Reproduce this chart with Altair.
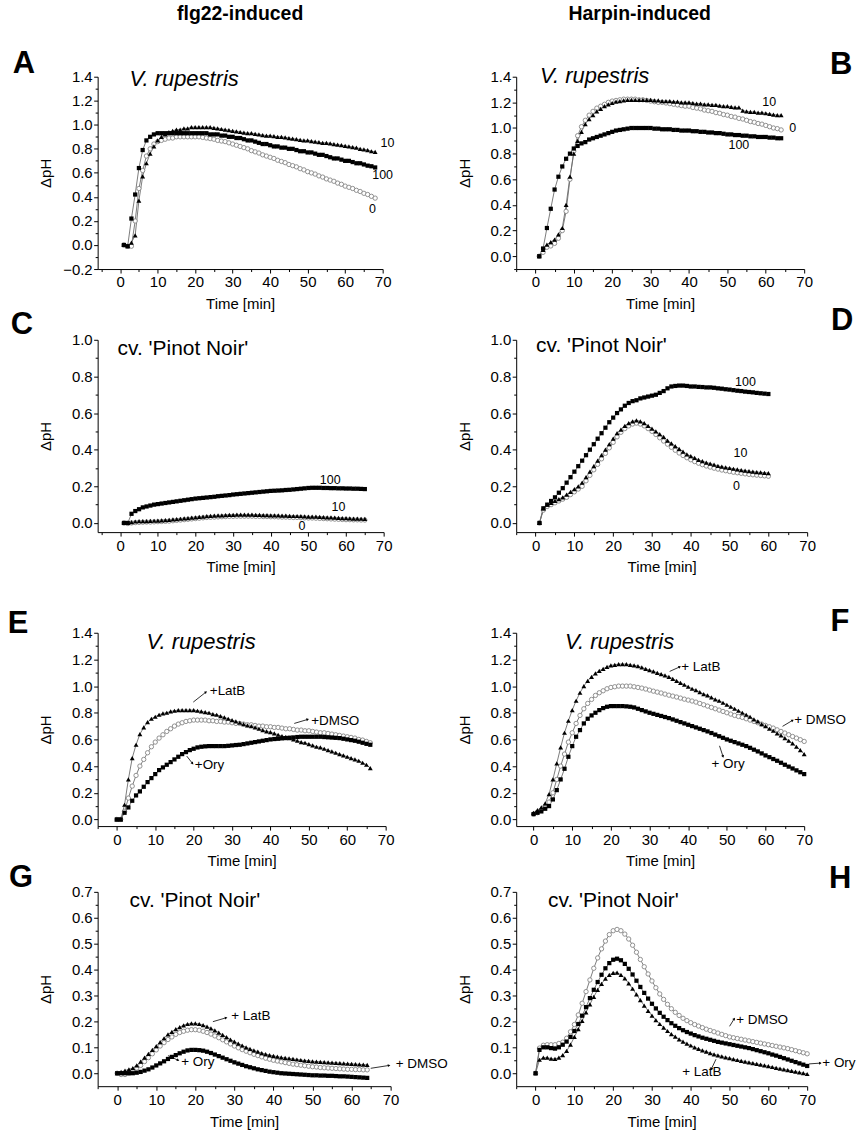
import math
import altair as alt
import pandas as pd

FONT = "Liberation Sans"

# ---------------- data ----------------
# Panel A: flg22, V. rupestris
A_t = list(range(1, 69))
A_100 = [0.00, -0.01, 0.22, 0.42, 0.64, 0.79, 0.87, 0.90, 0.92, 0.93,
         0.93, 0.93, 0.93, 0.93, 0.93, 0.93, 0.93, 0.93, 0.93, 0.93,
         0.93, 0.93, 0.93, 0.92, 0.92, 0.92, 0.91, 0.91, 0.90, 0.90,
         0.89, 0.89, 0.88, 0.87, 0.87, 0.86, 0.85, 0.84, 0.84, 0.83,
         0.82, 0.82, 0.81, 0.81, 0.80, 0.80, 0.79, 0.78, 0.78, 0.77,
         0.77, 0.76, 0.75, 0.75, 0.74, 0.73, 0.72, 0.72, 0.71, 0.70,
         0.70, 0.69, 0.68, 0.68, 0.67, 0.66, 0.655, 0.645]
A_10 = [0.00, -0.01, 0.02, 0.08, 0.37, 0.57, 0.68, 0.76, 0.82, 0.87,
        0.90, 0.92, 0.94, 0.95, 0.96, 0.96, 0.97, 0.97, 0.98, 0.98,
        0.98, 0.98, 0.98, 0.98, 0.975, 0.97, 0.965, 0.96, 0.955, 0.95,
        0.945, 0.94, 0.935, 0.93, 0.93, 0.925, 0.92, 0.915, 0.91, 0.91,
        0.905, 0.90, 0.90, 0.895, 0.89, 0.885, 0.88, 0.875, 0.87, 0.87,
        0.865, 0.86, 0.855, 0.85, 0.85, 0.845, 0.84, 0.835, 0.83, 0.825,
        0.82, 0.815, 0.81, 0.80, 0.795, 0.79, 0.78, 0.775]
A_0 = [0.00, -0.01, -0.01, 0.20, 0.47, 0.62, 0.74, 0.80, 0.84, 0.86,
       0.87, 0.88, 0.89, 0.89, 0.90, 0.90, 0.90, 0.90, 0.90, 0.90,
       0.90, 0.895, 0.89, 0.885, 0.88, 0.87, 0.865, 0.86, 0.85, 0.84,
       0.83, 0.82, 0.81, 0.80, 0.785, 0.775, 0.765, 0.75, 0.74, 0.73,
       0.72, 0.705, 0.695, 0.685, 0.67, 0.66, 0.65, 0.635, 0.625, 0.61,
       0.60, 0.59, 0.575, 0.565, 0.55, 0.54, 0.53, 0.515, 0.505, 0.49,
       0.48, 0.47, 0.455, 0.445, 0.43, 0.42, 0.405, 0.39]
A_lab_text = ["10", "100", "0"]
A_lab_t = [71.3, 70.0, 67.3]
A_lab_v = [0.85, 0.583, 0.30]

# Panel B: harpin, V. rupestris
B_t = list(range(1, 65))
B_100 = [0.00, 0.06, 0.22, 0.37, 0.52, 0.62, 0.70, 0.76, 0.80, 0.84,
         0.86, 0.88, 0.89, 0.91, 0.92, 0.93, 0.94, 0.95, 0.96, 0.97,
         0.98, 0.985, 0.99, 0.995, 1.00, 1.00, 1.00, 1.00, 1.00, 1.00,
         0.995, 0.995, 0.99, 0.99, 0.99, 0.985, 0.985, 0.98, 0.98, 0.98,
         0.975, 0.975, 0.97, 0.97, 0.965, 0.965, 0.96, 0.96, 0.955, 0.95,
         0.95, 0.945, 0.945, 0.94, 0.94, 0.935, 0.935, 0.93, 0.93, 0.93,
         0.925, 0.925, 0.92, 0.92]
B_10 = [0.00, 0.05, 0.09, 0.11, 0.13, 0.17, 0.22, 0.40, 0.62, 0.80,
        0.90, 0.97, 1.03, 1.07, 1.10, 1.13, 1.15, 1.17, 1.185, 1.195,
        1.205, 1.21, 1.215, 1.22, 1.22, 1.22, 1.22, 1.22, 1.22, 1.22,
        1.215, 1.215, 1.21, 1.21, 1.21, 1.205, 1.205, 1.20, 1.20, 1.20,
        1.195, 1.19, 1.19, 1.185, 1.185, 1.18, 1.18, 1.175, 1.17, 1.17,
        1.165, 1.16, 1.16, 1.135, 1.13, 1.125, 1.125, 1.12, 1.12, 1.115,
        1.11, 1.105, 1.10, 1.10]
B_0 = [0.00, 0.03, 0.07, 0.08, 0.10, 0.14, 0.20, 0.35, 0.60, 0.82,
       0.94, 1.01, 1.06, 1.10, 1.13, 1.155, 1.17, 1.185, 1.20, 1.21,
       1.215, 1.22, 1.225, 1.225, 1.225, 1.225, 1.22, 1.22, 1.215, 1.21,
       1.205, 1.20, 1.20, 1.195, 1.19, 1.185, 1.18, 1.175, 1.17, 1.17,
       1.16, 1.155, 1.15, 1.14, 1.135, 1.13, 1.12, 1.115, 1.105, 1.10,
       1.09, 1.085, 1.075, 1.07, 1.06, 1.05, 1.045, 1.035, 1.03, 1.02,
       1.01, 1.00, 0.995, 0.985]
B_lab_text = ["10", "0", "100"]
B_lab_t = [60.9, 67.0, 53.0]
B_lab_v = [1.20, 1.00, 0.865]

# Panel C: flg22, Pinot Noir
C_t = list(range(1, 66))
C_100 = [0.00, 0.00, 0.05, 0.065, 0.075, 0.085, 0.09, 0.095, 0.10, 0.103,
         0.106, 0.109, 0.112, 0.115, 0.118, 0.121, 0.124, 0.127, 0.13, 0.133,
         0.135, 0.137, 0.139, 0.141, 0.143, 0.146, 0.148, 0.15, 0.152, 0.155,
         0.157, 0.159, 0.161, 0.163, 0.165, 0.167, 0.169, 0.171, 0.173, 0.175,
         0.176, 0.177, 0.178, 0.18, 0.181, 0.183, 0.185, 0.187, 0.189, 0.191,
         0.192, 0.192, 0.192, 0.191, 0.191, 0.19, 0.19, 0.189, 0.189, 0.188,
         0.188, 0.187, 0.187, 0.186, 0.185]
C_10 = [0.00, 0.00, 0.005, 0.008, 0.01, 0.01, 0.01, 0.011, 0.012, 0.013,
        0.014, 0.015, 0.017, 0.019, 0.021, 0.023, 0.025, 0.027, 0.029, 0.031,
        0.033, 0.035, 0.037, 0.039, 0.04, 0.041, 0.042, 0.043, 0.044, 0.044,
        0.045, 0.045, 0.045, 0.045, 0.045, 0.044, 0.044, 0.043, 0.043, 0.042,
        0.042, 0.041, 0.04, 0.04, 0.039, 0.038, 0.038, 0.037, 0.036, 0.035,
        0.035, 0.034, 0.033, 0.032, 0.031, 0.03, 0.029, 0.028, 0.027, 0.026,
        0.025, 0.024, 0.024, 0.023, 0.022]
C_0 = [0.00, -0.003, 0.00, 0.002, 0.003, 0.004, 0.005, 0.005, 0.006, 0.007,
       0.008, 0.009, 0.01, 0.012, 0.014, 0.016, 0.018, 0.02, 0.022, 0.024,
       0.026, 0.028, 0.03, 0.031, 0.032, 0.033, 0.034, 0.035, 0.036, 0.036,
       0.037, 0.037, 0.037, 0.037, 0.037, 0.036, 0.036, 0.035, 0.035, 0.034,
       0.034, 0.033, 0.032, 0.032, 0.031, 0.03, 0.03, 0.029, 0.028, 0.027,
       0.027, 0.026, 0.025, 0.024, 0.023, 0.022, 0.021, 0.02, 0.019, 0.018,
       0.018, 0.017, 0.017, 0.016, 0.016]
C_lab_text = ["100", "10", "0"]
C_lab_t = [55.8, 58.0, 48.3]
C_lab_v = [0.234, 0.086, -0.018]

# Panel D: harpin, Pinot Noir
D_t = list(range(1, 61))
D_100 = [0.00, 0.08, 0.10, 0.12, 0.14, 0.165, 0.19, 0.22, 0.25, 0.28,
         0.31, 0.34, 0.37, 0.40, 0.43, 0.46, 0.49, 0.52, 0.55, 0.575,
         0.60, 0.62, 0.64, 0.655, 0.665, 0.67, 0.68, 0.685, 0.69, 0.695,
         0.70, 0.71, 0.72, 0.735, 0.745, 0.748, 0.75, 0.75, 0.748, 0.745,
         0.745, 0.743, 0.742, 0.74, 0.74, 0.738, 0.735, 0.733, 0.73, 0.728,
         0.725, 0.722, 0.72, 0.717, 0.715, 0.713, 0.71, 0.708, 0.706, 0.704]
D_10 = [0.00, 0.08, 0.10, 0.11, 0.12, 0.13, 0.14, 0.155, 0.17, 0.185,
        0.20, 0.22, 0.25, 0.28, 0.31, 0.34, 0.37, 0.40, 0.43, 0.46,
        0.49, 0.51, 0.53, 0.545, 0.555, 0.56, 0.555, 0.545, 0.53, 0.515,
        0.50, 0.485, 0.47, 0.45, 0.435, 0.42, 0.405, 0.39, 0.375, 0.365,
        0.355, 0.345, 0.337, 0.33, 0.324, 0.318, 0.312, 0.307, 0.303, 0.30,
        0.296, 0.292, 0.289, 0.286, 0.283, 0.28, 0.278, 0.276, 0.274, 0.272]
D_0 = [0.00, 0.07, 0.09, 0.10, 0.11, 0.12, 0.13, 0.14, 0.155, 0.17,
       0.185, 0.20, 0.23, 0.26, 0.29, 0.32, 0.35, 0.38, 0.41, 0.44,
       0.47, 0.495, 0.515, 0.53, 0.54, 0.545, 0.54, 0.53, 0.515, 0.50,
       0.483, 0.465, 0.447, 0.43, 0.413, 0.397, 0.382, 0.368, 0.356, 0.345,
       0.335, 0.326, 0.318, 0.311, 0.305, 0.299, 0.294, 0.289, 0.285, 0.281,
       0.277, 0.274, 0.271, 0.268, 0.265, 0.263, 0.261, 0.259, 0.257, 0.255]
D_lab_text = ["100", "10", "0"]
D_lab_t = [54.1, 52.8, 51.8]
D_lab_v = [0.767, 0.382, 0.204]

# Panel E: flg22 + inhibitors, V. rupestris
E_t = list(range(0, 67))
E_latb = [0.00, 0.00, 0.11, 0.30, 0.46, 0.56, 0.64, 0.69, 0.73, 0.755,
          0.77, 0.785, 0.795, 0.80, 0.81, 0.815, 0.82, 0.82, 0.82, 0.82,
          0.82, 0.815, 0.81, 0.805, 0.80, 0.79, 0.785, 0.775, 0.765, 0.755,
          0.745, 0.735, 0.725, 0.715, 0.705, 0.70, 0.69, 0.68, 0.67, 0.66,
          0.655, 0.645, 0.635, 0.625, 0.62, 0.61, 0.60, 0.59, 0.58, 0.575,
          0.565, 0.555, 0.545, 0.54, 0.53, 0.52, 0.51, 0.50, 0.49, 0.48,
          0.47, 0.46, 0.45, 0.44, 0.425, 0.41, 0.385]
E_dmso = [0.00, 0.00, 0.06, 0.16, 0.25, 0.33, 0.40, 0.45, 0.50, 0.545,
          0.58, 0.61, 0.635, 0.66, 0.68, 0.70, 0.715, 0.725, 0.735, 0.74,
          0.745, 0.745, 0.745, 0.745, 0.74, 0.74, 0.735, 0.735, 0.73, 0.73,
          0.725, 0.72, 0.72, 0.715, 0.71, 0.71, 0.705, 0.70, 0.70, 0.695,
          0.695, 0.69, 0.69, 0.685, 0.68, 0.68, 0.675, 0.67, 0.67, 0.665,
          0.665, 0.66, 0.655, 0.65, 0.65, 0.645, 0.64, 0.635, 0.63, 0.625,
          0.62, 0.615, 0.61, 0.60, 0.595, 0.585, 0.575]
E_ory = [0.00, 0.00, 0.05, 0.09, 0.14, 0.18, 0.21, 0.245, 0.28, 0.31,
         0.34, 0.37, 0.39, 0.41, 0.43, 0.45, 0.47, 0.49, 0.505, 0.52,
         0.53, 0.54, 0.545, 0.548, 0.55, 0.55, 0.55, 0.55, 0.55, 0.552,
         0.555, 0.558, 0.56, 0.565, 0.57, 0.575, 0.58, 0.585, 0.59, 0.595,
         0.60, 0.603, 0.605, 0.608, 0.61, 0.613, 0.615, 0.618, 0.62, 0.62,
         0.62, 0.62, 0.62, 0.62, 0.618, 0.616, 0.614, 0.612, 0.61, 0.605,
         0.60, 0.595, 0.59, 0.583, 0.575, 0.567, 0.56]
E_ann_text = ["+LatB", "+DMSO", "+Ory"]
E_ann_t = [24.2, 50.6, 20.3]
E_ann_v = [0.96, 0.74, 0.41]
E_arr_t1 = [19.9, 46.2, 18.2]
E_arr_v1 = [0.88, 0.72, 0.475]
E_arr_t2 = [23.2, 49.7, 19.7]
E_arr_v2 = [0.955, 0.75, 0.42]

# Panel F: harpin + inhibitors, V. rupestris
F_t = list(range(0, 71))
F_latb = [0.05, 0.07, 0.09, 0.12, 0.19, 0.30, 0.42, 0.54, 0.65, 0.74,
          0.82, 0.89, 0.95, 1.00, 1.04, 1.07, 1.095, 1.115, 1.13, 1.145,
          1.155, 1.16, 1.165, 1.165, 1.165, 1.16, 1.155, 1.15, 1.14, 1.13,
          1.12, 1.11, 1.10, 1.09, 1.08, 1.07, 1.055, 1.04, 1.025, 1.01,
          0.995, 0.98, 0.97, 0.955, 0.94, 0.93, 0.915, 0.90, 0.89, 0.875,
          0.86, 0.845, 0.83, 0.815, 0.80, 0.785, 0.77, 0.75, 0.735, 0.715,
          0.70, 0.68, 0.665, 0.645, 0.63, 0.61, 0.59, 0.57, 0.545, 0.52,
          0.49]
F_dmso = [0.04, 0.05, 0.07, 0.09, 0.13, 0.20, 0.30, 0.40, 0.49, 0.58,
          0.65, 0.72, 0.78, 0.83, 0.87, 0.90, 0.93, 0.95, 0.965, 0.98,
          0.99, 0.995, 1.00, 1.00, 1.00, 1.00, 0.995, 0.99, 0.985, 0.978,
          0.97, 0.962, 0.955, 0.948, 0.94, 0.932, 0.925, 0.918, 0.91, 0.902,
          0.895, 0.888, 0.88, 0.87, 0.86, 0.85, 0.84, 0.83, 0.82, 0.81,
          0.80, 0.79, 0.78, 0.772, 0.765, 0.755, 0.745, 0.735, 0.725, 0.715,
          0.705, 0.695, 0.685, 0.672, 0.66, 0.648, 0.635, 0.622, 0.61, 0.598,
          0.585]
F_ory = [0.04, 0.05, 0.06, 0.08, 0.10, 0.15, 0.22, 0.30, 0.38, 0.47,
         0.55, 0.62, 0.67, 0.72, 0.755, 0.78, 0.80, 0.82, 0.835, 0.845,
         0.85, 0.85, 0.85, 0.85, 0.848, 0.845, 0.84, 0.83, 0.82, 0.81,
         0.80, 0.792, 0.784, 0.776, 0.768, 0.76, 0.75, 0.74, 0.73, 0.72,
         0.71, 0.70, 0.69, 0.68, 0.67, 0.66, 0.648, 0.636, 0.624, 0.612,
         0.60, 0.59, 0.58, 0.57, 0.56, 0.55, 0.537, 0.523, 0.51, 0.495,
         0.48, 0.467, 0.453, 0.44, 0.425, 0.41, 0.396, 0.382, 0.368, 0.354,
         0.34]
F_ann_text = ["+ LatB", "+ DMSO", "+ Ory"]
F_ann_t = [38.2, 67.4, 46.0]
F_ann_v = [1.144, 0.748, 0.417]
F_arr_t1 = [35.2, 64.4, 48.1]
F_arr_v1 = [1.11, 0.698, 0.552]
F_arr_t2 = [37.8, 67.0, 49.0]
F_arr_v2 = [1.144, 0.743, 0.472]

# Panel G: flg22 + inhibitors, Pinot Noir
G_t = list(range(0, 65))
G_latb = [0.000, 0.005, 0.010, 0.015, 0.020, 0.030, 0.045, 0.060, 0.075, 0.090,
          0.105, 0.120, 0.135, 0.150, 0.160, 0.170, 0.178, 0.185, 0.190, 0.192,
          0.192, 0.190, 0.186, 0.180, 0.173, 0.165, 0.157, 0.148, 0.139, 0.130,
          0.122, 0.114, 0.107, 0.100, 0.094, 0.088, 0.083, 0.078, 0.074, 0.070,
          0.067, 0.064, 0.061, 0.059, 0.057, 0.055, 0.053, 0.051, 0.049, 0.048,
          0.046, 0.045, 0.044, 0.043, 0.042, 0.041, 0.040, 0.039, 0.038, 0.037,
          0.036, 0.035, 0.034, 0.033, 0.032]
G_dmso = [0.000, -0.005, -0.005, 0.000, 0.010, 0.020, 0.030, 0.045, 0.060, 0.075,
          0.090, 0.105, 0.118, 0.130, 0.140, 0.150, 0.157, 0.162, 0.166, 0.168,
          0.168, 0.166, 0.162, 0.157, 0.151, 0.144, 0.137, 0.129, 0.121, 0.113,
          0.105, 0.098, 0.091, 0.085, 0.079, 0.073, 0.068, 0.063, 0.058, 0.054,
          0.050, 0.047, 0.044, 0.041, 0.038, 0.035, 0.033, 0.031, 0.029, 0.027,
          0.025, 0.024, 0.022, 0.021, 0.020, 0.019, 0.018, 0.017, 0.016, 0.015,
          0.015, 0.014, 0.014, 0.013, 0.013]
G_ory = [0.000, 0.000, 0.000, 0.000, 0.000, 0.002, 0.005, 0.010, 0.015, 0.022,
         0.030, 0.038, 0.046, 0.055, 0.063, 0.070, 0.077, 0.083, 0.088, 0.090,
         0.090, 0.089, 0.087, 0.083, 0.078, 0.072, 0.066, 0.060, 0.054, 0.048,
         0.042, 0.037, 0.032, 0.027, 0.023, 0.019, 0.015, 0.012, 0.009, 0.006,
         0.004, 0.002, 0.000, -0.001, -0.002, -0.003, -0.004, -0.005, -0.006, -0.007,
         -0.008, -0.008, -0.009, -0.009, -0.010, -0.010, -0.011, -0.012, -0.012, -0.013,
         -0.014, -0.015, -0.016, -0.017, -0.018]
G_ann_text = ["+ LatB", "+ DMSO", "+ Ory"]
G_ann_t = [29.2, 71.3, 16.4]
G_ann_v = [0.222, 0.035, 0.045]
G_arr_t1 = [24.5, 64.9, 13.0]
G_arr_v1 = [0.199, 0.019, 0.068]
G_arr_t2 = [27.9, 69.6, 15.6]
G_arr_v2 = [0.214, 0.030, 0.050]

# Panel H: harpin + inhibitors, Pinot Noir
H_t = list(range(0, 71))
H_dmso = [0.000, 0.097, 0.108, 0.110, 0.110, 0.110, 0.115, 0.120, 0.135, 0.160,
          0.188, 0.225, 0.270, 0.315, 0.360, 0.405, 0.445, 0.480, 0.510, 0.535,
          0.550, 0.555, 0.550, 0.537, 0.518, 0.494, 0.467, 0.439, 0.411, 0.383,
          0.356, 0.330, 0.306, 0.285, 0.266, 0.249, 0.235, 0.223, 0.212, 0.203,
          0.195, 0.188, 0.182, 0.176, 0.170, 0.165, 0.160, 0.155, 0.150, 0.145,
          0.140, 0.137, 0.134, 0.131, 0.128, 0.125, 0.122, 0.119, 0.116, 0.113,
          0.110, 0.107, 0.104, 0.101, 0.098, 0.095, 0.091, 0.087, 0.083, 0.079,
          0.075]
H_ory = [0.000, 0.090, 0.100, 0.100, 0.097, 0.095, 0.100, 0.110, 0.122, 0.140,
         0.163, 0.190, 0.222, 0.255, 0.290, 0.322, 0.352, 0.380, 0.405, 0.425,
         0.438, 0.442, 0.436, 0.422, 0.403, 0.381, 0.357, 0.333, 0.310, 0.288,
         0.268, 0.250, 0.233, 0.218, 0.205, 0.193, 0.183, 0.174, 0.166, 0.159,
         0.153, 0.147, 0.142, 0.137, 0.133, 0.129, 0.125, 0.121, 0.118, 0.115,
         0.112, 0.109, 0.106, 0.103, 0.100, 0.097, 0.093, 0.089, 0.085, 0.081,
         0.077, 0.072, 0.068, 0.063, 0.058, 0.053, 0.048, 0.043, 0.038, 0.033,
         0.028]
H_latb = [0.000, 0.052, 0.060, 0.060, 0.056, 0.055, 0.060, 0.070, 0.086, 0.110,
          0.140, 0.170, 0.202, 0.235, 0.266, 0.295, 0.322, 0.345, 0.365, 0.380,
          0.387, 0.388, 0.380, 0.366, 0.347, 0.326, 0.304, 0.282, 0.261, 0.241,
          0.222, 0.205, 0.190, 0.176, 0.163, 0.151, 0.141, 0.131, 0.122, 0.114,
          0.107, 0.100, 0.094, 0.088, 0.083, 0.078, 0.073, 0.069, 0.065, 0.061,
          0.058, 0.054, 0.051, 0.048, 0.045, 0.042, 0.039, 0.036, 0.033, 0.030,
          0.027, 0.024, 0.021, 0.018, 0.015, 0.012, 0.009, 0.006, 0.003, 0.000,
          -0.003]
H_ann_text = ["+ DMSO", "+ Ory", "+ LatB"]
H_ann_t = [51.7, 73.9, 37.8]
H_ann_v = [0.205, 0.039, 0.003]
H_arr_t1 = [50.0, 70.5, 46.5]
H_arr_v1 = [0.181, 0.036, 0.054]
H_arr_t2 = [51.2, 73.4, 45.3]
H_arr_v2 = [0.21, 0.039, 0.016]

# axis tick values
X_TICKS = [-5, 0, 5, 10, 15, 20, 25, 30, 35, 40, 45, 50, 55, 60, 65, 70]
Y_TICKS_A = [-0.2, -0.1, 0.0, 0.1, 0.2, 0.3, 0.4, 0.5, 0.6, 0.7, 0.8, 0.9, 1.0, 1.1, 1.2, 1.3, 1.4]
Y_TICKS_B = [-0.1, 0.0, 0.1, 0.2, 0.3, 0.4, 0.5, 0.6, 0.7, 0.8, 0.9, 1.0, 1.1, 1.2, 1.3, 1.4]
Y_TICKS_CD = [0.0, 0.1, 0.2, 0.3, 0.4, 0.5, 0.6, 0.7, 0.8, 0.9, 1.0]
Y_TICKS_EF = [0.0, 0.1, 0.2, 0.3, 0.4, 0.5, 0.6, 0.7, 0.8, 0.9, 1.0, 1.1, 1.2, 1.3, 1.4]
Y_TICKS_GH = [0.0, 0.05, 0.1, 0.15, 0.2, 0.25, 0.3, 0.35, 0.4, 0.45, 0.5, 0.55, 0.6, 0.65, 0.7]
# labelled (major) y-tick step, in hundredths
Y_STEP_02 = 20
Y_STEP_01 = 10

PANELS = [
    dict(letter="A", t=A_t, series=[("0", "circle", A_0), ("100", "square", A_100), ("10", "triangle", A_10)],
         xdom=[-6, 70], ydom=[-0.2, 1.4], W=286, H=193, yt=Y_TICKS_A, ystep=Y_STEP_02,
         sub="V. rupestris", italic=True, sdx=32, sdy=9, ldx=-74, ldy=-13,
         lab=(A_lab_text, A_lab_t, A_lab_v), header=("flg22-induced", 143)),
    dict(letter="B", t=B_t, series=[("0", "circle", B_0), ("100", "square", B_100), ("10", "triangle", B_10)],
         xdom=[-5, 70], ydom=[-0.1, 1.4], W=289, H=193, yt=Y_TICKS_B, ystep=Y_STEP_02,
         sub="V. rupestris", italic=True, sdx=24, sdy=6, ldx=326, ldy=-12,
         lab=(B_lab_text, B_lab_t, B_lab_v), header=("Harpin-induced", 124)),
    dict(letter="C", t=C_t, series=[("0", "circle", C_0), ("100", "square", C_100), ("10", "triangle", C_10)],
         xdom=[-6, 70], ydom=[-0.05, 1.0], W=287, H=193, yt=Y_TICKS_CD, ystep=Y_STEP_02,
         sub="cv. 'Pinot Noir'", italic=False, sdx=20, sdy=15, ldx=-76, ldy=-15,
         lab=(C_lab_text, C_lab_t, C_lab_v)),
    dict(letter="D", t=D_t, series=[("0", "circle", D_0), ("100", "square", D_100), ("10", "triangle", D_10)],
         xdom=[-5, 70], ydom=[-0.05, 1.0], W=292, H=193, yt=Y_TICKS_CD, ystep=Y_STEP_02,
         sub="cv. 'Pinot Noir'", italic=False, sdx=20, sdy=12, ldx=327, ldy=-19,
         lab=(D_lab_text, D_lab_t, D_lab_v)),
    dict(letter="E", t=E_t, series=[("DMSO", "circle", E_dmso), ("Ory", "square", E_ory), ("LatB", "triangle", E_latb)],
         xdom=[-5, 70], ydom=[-0.05, 1.4], W=289, H=194, yt=Y_TICKS_EF, ystep=Y_STEP_02,
         sub="V. rupestris", italic=True, sdx=49, sdy=16, ldx=-80, ldy=-9,
         ann=(E_ann_text, E_ann_t, E_ann_v), arr=(E_arr_t1, E_arr_v1, E_arr_t2, E_arr_v2)),
    dict(letter="F", t=F_t, series=[("DMSO", "circle", F_dmso), ("Ory", "square", F_ory), ("LatB", "triangle", F_latb)],
         xdom=[-4.5, 70], ydom=[-0.05, 1.4], W=289, H=194, yt=Y_TICKS_EF, ystep=Y_STEP_02,
         sub="V. rupestris", italic=True, sdx=49, sdy=16, ldx=325, ldy=-11,
         ann=(F_ann_text, F_ann_t, F_ann_v), arr=(F_arr_t1, F_arr_v1, F_arr_t2, F_arr_v2)),
    dict(letter="G", t=G_t, series=[("DMSO", "circle", G_dmso), ("Ory", "square", G_ory), ("LatB", "triangle", G_latb)],
         xdom=[-5, 70], ydom=[-0.05, 0.7], W=294, H=195, yt=Y_TICKS_GH, ystep=Y_STEP_01,
         sub="cv. 'Pinot Noir'", italic=False, sdx=32, sdy=15, ldx=-77, ldy=-14,
         ann=(G_ann_text, G_ann_t, G_ann_v), arr=(G_arr_t1, G_arr_v1, G_arr_t2, G_arr_v2)),
    dict(letter="H", t=H_t, series=[("DMSO", "circle", H_dmso), ("Ory", "square", H_ory), ("LatB", "triangle", H_latb)],
         xdom=[-5, 70], ydom=[-0.05, 0.7], W=292, H=195, yt=Y_TICKS_GH, ystep=Y_STEP_01,
         sub="cv. 'Pinot Noir'", italic=False, sdx=32, sdy=15, ldx=325, ldy=-13,
         ann=(H_ann_text, H_ann_t, H_ann_v), arr=(H_arr_t1, H_arr_v1, H_arr_t2, H_arr_v2)),
]


def one_row(value):
    return pd.DataFrame({"s": [value]})


def make_panel(p, anchor=False):
    xdom, ydom = p["xdom"], p["ydom"]
    xt = [v for v in X_TICKS if xdom[0] <= v <= xdom[1]]
    xtest = "abs(round(datum.value)) % 10 === 0"
    xaxis = alt.Axis(values=xt, title="Time [min]",
                     labelExpr=f"{xtest} ? datum.label : ''",
                     tickSize={"condition": {"test": xtest, "value": 4}, "value": 2.5},
                     labelPadding=2, titleY=35, titleBaseline="middle")
    ytest = f"abs(round(datum.value*100)) % {p['ystep']} === 0"
    yaxis = alt.Axis(values=p["yt"], title="ΔpH",
                     labelExpr=f"{ytest} ? format(datum.value, '.1f') : ''",
                     tickSize={"condition": {"test": ytest, "value": 4}, "value": 2.5},
                     labelPadding=1.5, titleX=-52, titleBaseline="middle")
    X = alt.X("t:Q", scale=alt.Scale(domain=xdom, nice=False, zero=False), axis=xaxis)
    Y = alt.Y("v:Q", scale=alt.Scale(domain=ydom, nice=False, zero=False), axis=yaxis)

    frames = {}
    rows = []
    for name, kind, vals in p["series"]:
        d = pd.DataFrame({"t": p["t"][:len(vals)], "v": vals, "s": name})
        frames[kind] = d
        rows.append(d)
    df = pd.concat(rows, ignore_index=True)

    layers = [
        alt.Chart(df).mark_line(color="#6e6e6e", strokeWidth=0.9).encode(x=X, y=Y, detail="s:N"),
        alt.Chart(frames["circle"]).mark_point(shape="circle", filled=True, fill="white", stroke="#858585",
                                               strokeWidth=0.9, size=19, opacity=1).encode(x=X, y=Y),
        alt.Chart(frames["square"]).mark_point(shape="square", filled=True, color="black", size=18,
                                               opacity=1).encode(x=X, y=Y),
        alt.Chart(frames["triangle"]).mark_point(shape="triangle-up", filled=True, color="black", size=24,
                                                 opacity=1).encode(x=X, y=Y),
    ]
    if "lab" in p:
        txt, tt, vv = p["lab"]
        ld = pd.DataFrame({"t": tt, "v": vv, "s": txt})
        layers.append(alt.Chart(ld).mark_text(font=FONT, fontSize=12.5, align="center", baseline="middle",
                                              color="black").encode(x=X, y=Y, text="s:N"))
    if "ann" in p:
        txt, tt, vv = p["ann"]
        ad = pd.DataFrame({"t": tt, "v": vv, "s": txt})
        layers.append(alt.Chart(ad).mark_text(font=FONT, fontSize=13.5, align="left", baseline="middle",
                                              color="black").encode(x=X, y=Y, text="s:N"))
        t1, v1, t2, v2 = p["arr"]
        ppx = p["W"] / (xdom[1] - xdom[0])
        ppy = p["H"] / (ydom[1] - ydom[0])
        ang = []
        for a, b, c, d in zip(t1, v1, t2, v2):
            dx = (c - a) * ppx
            dy = -(d - b) * ppy
            ang.append(math.degrees(math.atan2(dx, -dy)) % 360)
        rd = pd.DataFrame({"t": t1, "v": v1, "t2": t2, "v2": v2})
        hd = pd.DataFrame({"t": t2, "v": v2, "ang": ang})
        layers.append(alt.Chart(rd).mark_rule(color="black", strokeWidth=0.8).encode(
            x=X, y=Y, x2="t2:Q", y2="v2:Q"))
        layers.append(alt.Chart(hd).mark_point(shape="triangle-up", filled=True, color="black", size=9,
                                               opacity=1).encode(x=X, y=Y, angle=alt.Angle("ang:Q", scale=None)))
    layers.append(alt.Chart(one_row(p["sub"])).mark_text(
        font=FONT, fontSize=22 if p["italic"] else 21, fontStyle="italic" if p["italic"] else "normal",
        align="left", baseline="alphabetic", color="black").encode(
        x=alt.value(p["sdx"]), y=alt.value(p["sdy"]), text="s:N"))
    layers.append(alt.Chart(one_row(p["letter"])).mark_text(
        font=FONT, fontSize=31, fontWeight="bold", align="center", baseline="middle", color="black").encode(
        x=alt.value(p["ldx"]), y=alt.value(p["ldy"]), text="s:N"))
    if "header" in p:
        htxt, hx = p["header"]
        layers.append(alt.Chart(one_row(htxt)).mark_text(
            font=FONT, fontSize=19.5, fontWeight="bold", align="center", baseline="middle", color="black").encode(
            x=alt.value(hx), y=alt.value(-63), text="s:N"))
    if anchor:
        layers.append(alt.Chart(one_row("")).mark_rule(opacity=0, strokeWidth=0.5).encode(
            x=alt.value(-98), y=alt.value(-75), x2=alt.value(-98), y2=alt.value(-74)))
    return alt.layer(*layers).properties(width=p["W"], height=p["H"])


def spacer(h):
    return alt.Chart(one_row("")).mark_rule(opacity=0).encode(
        x=alt.value(0), y=alt.value(0), y2=alt.value(1)).properties(width=1, height=h)


charts = [make_panel(p, anchor=(i == 0)) for i, p in enumerate(PANELS)]
cells = [charts[0], charts[1], spacer(71), spacer(71),
         charts[2], charts[3], spacer(101), spacer(101),
         charts[4], charts[5], spacer(66), spacer(66),
         charts[6], charts[7]]

chart = alt.concat(*cells, columns=2, spacing={"row": 0, "column": 126}, bounds="flush", align="each").properties(
    padding={"left": 0, "top": 0, "right": 0, "bottom": 0}
).configure_view(stroke=None).configure_axis(
    grid=False, labelFont=FONT, labelFontSize=15, labelColor="black", titleFont=FONT, titleFontSize=15,
    titleFontWeight="normal", titleColor="black", domainColor="black", tickColor="black", domainWidth=1,
    tickWidth=1, labelFlush=False, labelOverlap=False
)

chart.save("out.html", embed_options={"renderer": "svg", "actions": False})
